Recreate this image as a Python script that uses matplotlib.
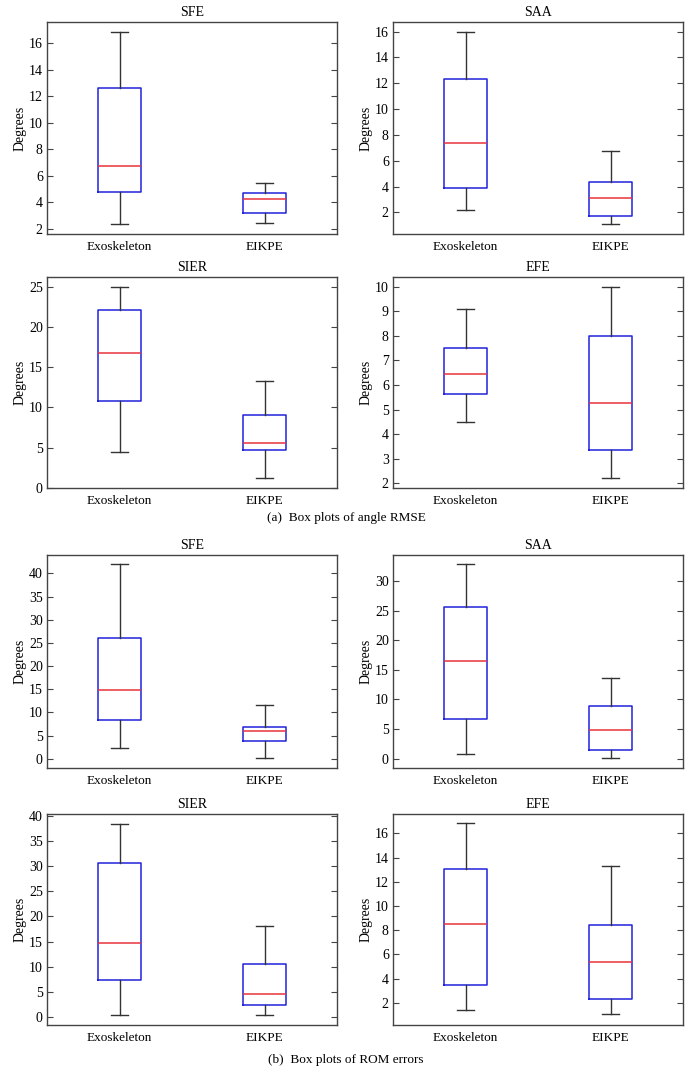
import matplotlib
matplotlib.use("Agg")
import matplotlib.pyplot as plt

plt.rcParams['font.family'] = ['Liberation Serif', 'DejaVu Serif']

groups = ["Exoskeleton", "EIKPE"]
titles = ["SFE", "SAA", "SIER", "EFE"]

# box stats per panel: [whislo, q1, median, q3, whishi] for Exoskeleton, EIKPE
rmse_sfe = [[2.34, 4.80, 6.74, 12.63, 16.88], [2.42, 3.17, 4.25, 4.70, 5.48]]
rmse_saa = [[2.18, 3.86, 7.35, 12.33, 15.95], [1.07, 1.74, 3.08, 4.38, 6.73]]
rmse_sier = [[4.48, 10.77, 16.74, 22.16, 25.0], [1.23, 4.73, 5.55, 9.05, 13.32]]
rmse_efe = [[4.51, 5.64, 6.43, 7.49, 9.08], [2.22, 3.37, 5.27, 7.99, 10.0]]

rom_sfe = [[2.31, 8.29, 14.92, 25.95, 41.95], [0.14, 3.89, 6.05, 6.92, 11.68]]
rom_saa = [[0.85, 6.77, 16.47, 25.66, 32.83], [0.11, 1.47, 4.91, 8.91, 13.65]]
rom_sier = [[0.27, 7.27, 14.67, 30.67, 38.53], [0.40, 2.27, 4.47, 10.53, 18.2]]
rom_efe = [[1.45, 3.47, 8.55, 13.08, 16.85], [1.04, 2.30, 5.41, 8.44, 13.35]]

rmse_data = [rmse_sfe, rmse_saa, rmse_sier, rmse_efe]
rom_data = [rom_sfe, rom_saa, rom_sier, rom_efe]

rmse_ylims = [(1.6, 17.6), (0.32, 16.75), (0, 26.2), (1.81, 10.39)]
rom_ylims = [(-2.0, 43.96), (-1.58, 34.4), (-1.67, 40.47), (0.17, 17.61)]

rmse_ticks = [range(2, 17, 2), range(2, 17, 2), range(0, 26, 5), range(2, 11, 1)]
rom_ticks = [range(0, 41, 5), range(0, 31, 5), range(0, 41, 5), range(2, 17, 2)]

W, H = 692, 1086
fig = plt.figure(figsize=(W / 100, H / 100), dpi=100)

# axes boxes in pixels: (left, top, right, bottom)
cols = [(47, 337), (393, 683)]
rows = [(22, 234), (277, 488), (555, 768), (814, 1025)]


def make_axes(col, row):
    l, r = cols[col]
    t, b = rows[row]
    return fig.add_axes([l / W, 1 - b / H, (r - l) / W, (b - t) / H])


def draw_panel(ax, stats, title, ylim, ticks):
    bxp_stats = []
    for name, s in zip(groups, stats):
        bxp_stats.append({'label': name, 'whislo': s[0], 'q1': s[1], 'med': s[2],
                          'q3': s[3], 'whishi': s[4], 'fliers': []})
    ax.bxp(bxp_stats, positions=[1, 2], widths=0.3, capwidths=0.115, showfliers=False,
           boxprops=dict(color='#2222dd', linewidth=1.1),
           medianprops=dict(color='#e8333a', linewidth=1.1),
           whiskerprops=dict(color='#333333', linewidth=1.0),
           capprops=dict(color='#333333', linewidth=1.0))
    ax.set_xlim(0.5, 2.5)
    ax.set_ylim(*ylim)
    ax.set_yticks(list(ticks))
    ax.set_title(title, fontsize=10, pad=4)
    ax.set_ylabel("Degrees", fontsize=10, labelpad=2)
    ax.tick_params(axis='y', direction='in', right=True, labelsize=10, length=4,
                   color='#444444', pad=3)
    ax.tick_params(axis='x', length=0, labelsize=9.5, pad=5)
    for sp in ax.spines.values():
        sp.set_color('#444444')
        sp.set_linewidth(1.0)


for i in range(4):
    ax = make_axes(i % 2, i // 2)
    draw_panel(ax, rmse_data[i], titles[i], rmse_ylims[i], rmse_ticks[i])
    ax = make_axes(i % 2, 2 + i // 2)
    draw_panel(ax, rom_data[i], titles[i], rom_ylims[i], rom_ticks[i])

fig.text(346 / W, 1 - 518 / H, "(a)  Box plots of angle RMSE", ha='center', va='center', fontsize=9.5)
fig.text(346 / W, 1 - 1060 / H, "(b)  Box plots of ROM errors", ha='center', va='center', fontsize=9.5)

fig.savefig("out.png", dpi=100)
